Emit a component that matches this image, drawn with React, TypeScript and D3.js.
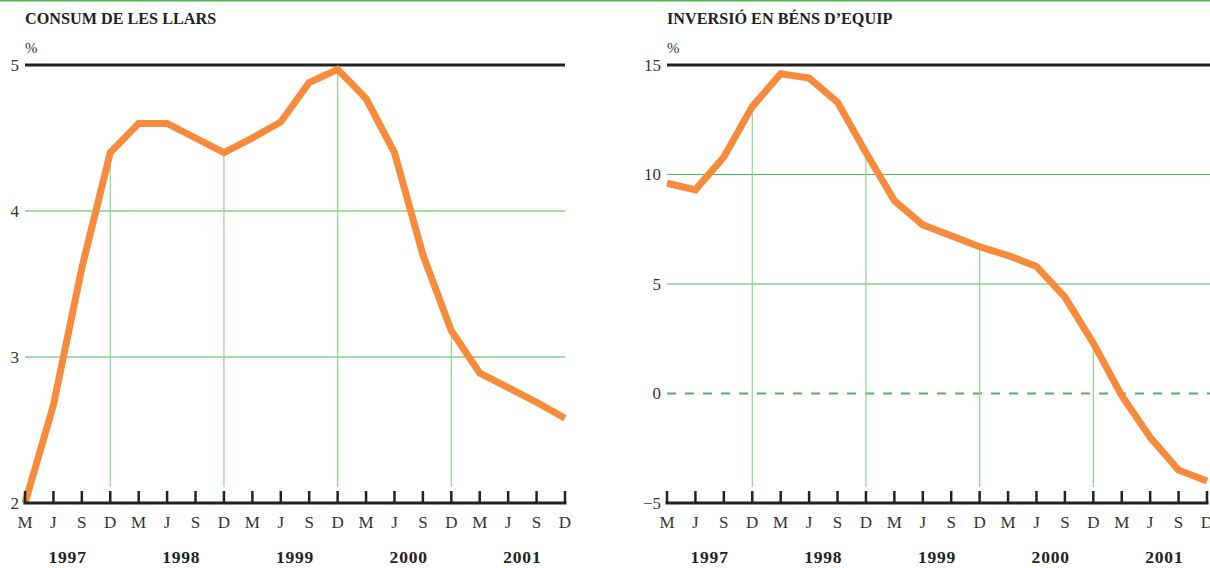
import React from "react";
import * as d3 from "d3";

const months = ["M", "J", "S", "D"];
const years = ["1997", "1998", "1999", "2000", "2001"];

const consumValues = [2.0, 2.67, 3.61, 4.4, 4.6, 4.6, 4.5, 4.4, 4.5, 4.61, 4.88, 4.97, 4.77, 4.4, 3.7, 3.18, 2.89, 2.79, 2.69, 2.58];
const consumGrid = [3, 4];

const inversioValues = [9.6, 9.3, 10.8, 13.1, 14.6, 14.4, 13.3, 11.0, 8.8, 7.7, 7.2, 6.7, 6.3, 5.8, 4.4, 2.3, -0.1, -2.0, -3.5, -4.0];
const inversioGrid = [5, 10];

const monthLabels = years.flatMap(() => months);

const SERIF = "'Liberation Serif', 'DejaVu Serif', serif";
const ORANGE = "#f68b3c";
const GREEN = "#4db84f";
const LIGHT_GREEN = "#8fd38f";

type ChartProps = {
  title: string;
  values: number[];
  domain: [number, number];
  grid: number[];
  dashed?: number;
  x0: number;
  x1: number;
  gridEnd: number;
};

const Chart = ({ title, values, domain, grid, dashed, x0, x1, gridEnd }: ChartProps) => {
  const top = 65;
  const bottom = 503;
  const x = d3.scaleLinear().domain([0, values.length - 1]).range([x0, x1]);
  const y = d3.scaleLinear().domain(domain).range([bottom, top]);

  const line = d3
    .line<number>()
    .x((_, i) => x(i))
    .y((d) => y(d))
    .curve(d3.curveLinear);

  const fmt = (v: number) => (v < 0 ? "\u2212" + Math.abs(v) : String(v));
  const yLabels = [domain[0], ...grid, ...(dashed !== undefined ? [dashed] : []), domain[1]];

  return (
    <g>
      <text x={x0} y={24} fontFamily={SERIF} fontWeight="bold" fontSize={16.2} fill="#222">
        {title}
      </text>
      <text x={x0} y={53} fontFamily={SERIF} fontSize={15} fill="#333">
        %
      </text>

      {/* horizontal grid */}
      {grid.map((g) => (
        <line key={g} x1={x0} x2={gridEnd} y1={y(g)} y2={y(g)} stroke={GREEN} strokeWidth={1} />
      ))}
      {dashed !== undefined && (
        <line
          x1={x0}
          x2={gridEnd}
          y1={y(dashed)}
          y2={y(dashed)}
          stroke={GREEN}
          strokeWidth={2}
          strokeDasharray="9 9"
        />
      )}

      {/* drop lines at December, except the last point */}
      {values.map((v, i) =>
        i % 4 === 3 && i < values.length - 1 ? (
          <line key={i} x1={x(i)} x2={x(i)} y1={y(v)} y2={bottom - 16} stroke={LIGHT_GREEN} strokeWidth={1.2} />
        ) : null
      )}

      {/* top line */}
      <line x1={x0} x2={gridEnd} y1={top} y2={top} stroke="#222" strokeWidth={3} />

      {/* y labels */}
      {yLabels.map((v) => (
        <text
          key={v}
          x={x0 - 6}
          y={y(v)}
          dy="0.35em"
          textAnchor="end"
          fontFamily={SERIF}
          fontSize={17}
          fill="#333"
        >
          {fmt(v)}
        </text>
      ))}

      {/* data line */}
      <path d={line(values) ?? ""} fill="none" stroke={ORANGE} strokeWidth={7} strokeLinejoin="miter" />

      {/* bottom axis */}
      <line x1={x0 - 1.5} x2={x1 + 1.5} y1={bottom} y2={bottom} stroke="#222" strokeWidth={3} />
      {monthLabels.map((m, i) => (
        <g key={i}>
          <line x1={x(i)} x2={x(i)} y1={bottom} y2={bottom - 12} stroke="#222" strokeWidth={2.5} />
          <text
            x={x(i)}
            y={528}
            textAnchor="middle"
            fontFamily={SERIF}
            fontSize={17}
            fill="#333"
          >
            {m}
          </text>
        </g>
      ))}
      {years.map((yr, k) => (
        <text
          key={yr}
          x={(x(k * 4) + x(k * 4 + 3)) / 2}
          y={563}
          textAnchor="middle"
          fontFamily={SERIF}
          fontWeight="bold"
          fontSize={17.5}
          letterSpacing={0.8}
          fill="#222"
        >
          {yr}
        </text>
      ))}
    </g>
  );
};

export default function App() {
  return (
    <div style={{ position: "absolute", left: 0, top: 0 }}>
      <svg width={1210} height={568} style={{ display: "block", background: "#fff" }}>
        <line x1={0} x2={1210} y1={0.5} y2={0.5} stroke={GREEN} strokeWidth={2} />
        <Chart
          title="CONSUM DE LES LLARS"
          values={consumValues}
          domain={[2, 5]}
          grid={consumGrid}
          x0={25}
          x1={565}
          gridEnd={565}
        />
        <Chart
          title="INVERSIÓ EN BÉNS D’EQUIP"
          values={inversioValues}
          domain={[-5, 15]}
          grid={inversioGrid}
          dashed={0}
          x0={667}
          x1={1207}
          gridEnd={1210}
        />
      </svg>
    </div>
  );
}
